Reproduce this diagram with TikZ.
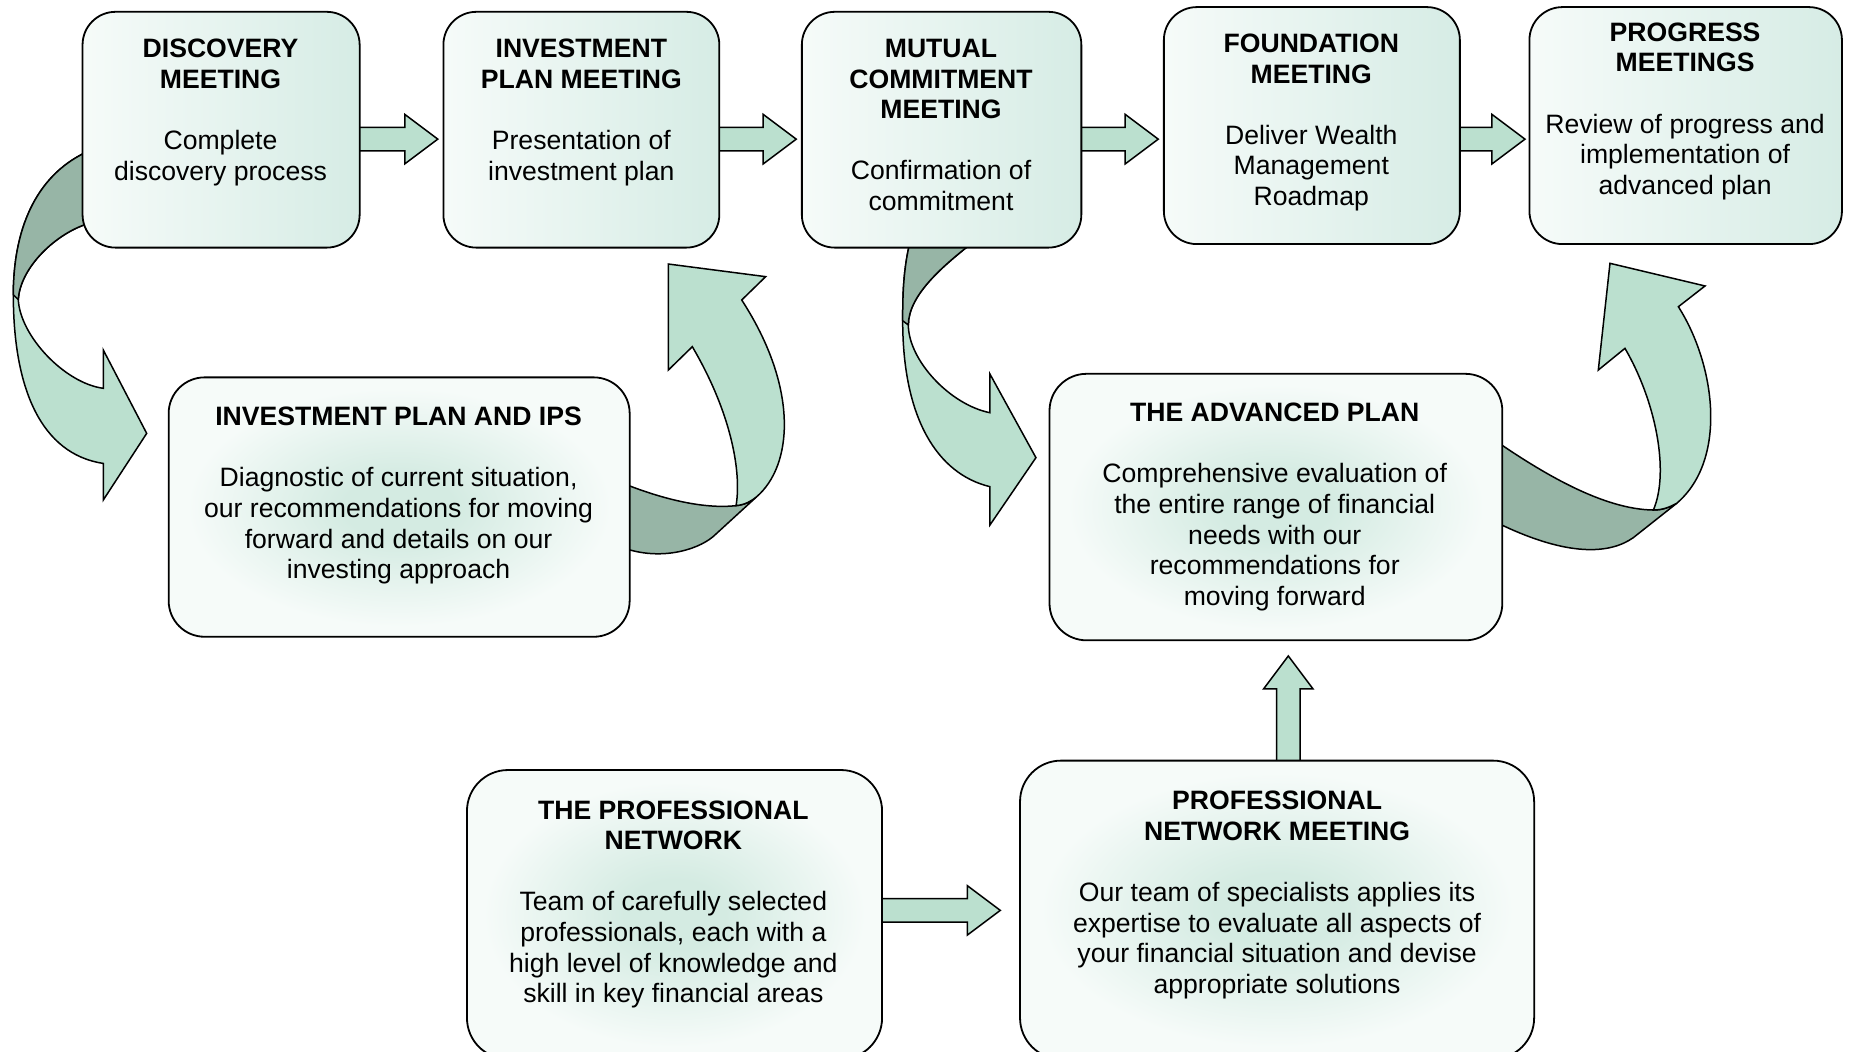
\documentclass[tikz,border=0pt]{standalone}
\usepackage{fontspec}
\setmainfont{Liberation Sans}
\usetikzlibrary{calc}

\definecolor{arrowfill}{HTML}{BBE0CF}
\definecolor{arrowback}{HTML}{97B5A6}
\definecolor{paleedge}{HTML}{F6FBF9}
\definecolor{mintface}{HTML}{D6ECE5}
\definecolor{glowcore}{HTML}{D4EBE2}

\pgfdeclarelayer{background}
\pgfsetlayers{background,main}

% soft glow used by the lower boxes
\pgfdeclareradialshading{glow}{\pgfpoint{0bp}{0bp}}{color(0bp)=(glowcore); color(6bp)=(glowcore); color(23bp)=(paleedge); color(50bp)=(paleedge)}

\tikzset{
  stage/.style={draw=black, line width=1.8pt, rounded corners=33pt, inner sep=0pt,
    left color=paleedge, right color=mintface},
  hub/.style={draw=black, line width=1.8pt, inner sep=0pt, shading=glow},
  caption/.style={align=center, font=\fontsize{26.6pt}{30.6pt}\selectfont, inner sep=0pt},
  blockarrow/.style={draw=black, line width=1.5pt, fill=arrowfill, line join=miter},
  backband/.style={draw=black, line width=1.5pt, fill=arrowback, line join=round},
  frontband/.style={draw=black, line width=1.5pt, fill=arrowfill, line join=miter},
}

% block arrow pointing right, from #1 to the tip #2
\newcommand{\rblock}[2]{%
  \draw[blockarrow] ($(#1)+(0,-10)$) -- ($(#2)+(-28,-10)$) -- ($(#2)+(-28,-21)$) -- (#2)
    -- ($(#2)+(-28,21)$) -- ($(#2)+(-28,10)$) -- ($(#1)+(0,10)$) -- cycle;}
% block arrow pointing up, from #1 to the tip #2
\newcommand{\ublock}[2]{%
  \draw[blockarrow] ($(#1)+(-10,0)$) -- ($(#2)+(-10,28)$) -- ($(#2)+(-21,28)$) -- (#2)
    -- ($(#2)+(21,28)$) -- ($(#2)+(10,28)$) -- ($(#1)+(10,0)$) -- cycle;}

\begin{document}
\begin{tikzpicture}[x=1.1792pt, y=-1.1792pt]
\useasboundingbox (0,0) rectangle (1568,892);
\clip (0,0) rectangle (1568,892);

% ---------- boxes ----------
\path
  node[stage, minimum width=277.1pt, minimum height=235.8pt] (b1) at (187.5,110) {}
  node[stage, minimum width=275.9pt, minimum height=235.8pt] (b2) at (493,110) {}
  node[stage, minimum width=279.5pt, minimum height=235.8pt] (b3) at (798.5,110) {}
  node[stage, minimum width=296.0pt, minimum height=237.0pt] (b4) at (1112.5,106.5) {}
  node[stage, minimum width=312.5pt, minimum height=237.0pt] (b5) at (1429.5,106.5) {}
  node[hub, rounded corners=36pt, minimum width=461.0pt, minimum height=259.4pt] (b6) at (338.5,430) {}
  node[hub, rounded corners=37pt, minimum width=452.8pt, minimum height=266.5pt] (b7) at (1082,430) {}
  node[hub, rounded corners=41pt, minimum width=415.1pt, minimum height=288.9pt] (b8) at (572,775.5) {}
  node[hub, rounded corners=41pt, minimum width=514.1pt, minimum height=298.3pt] (b9) at (1083,771.5) {};

% ---------- texts ----------
\node[caption] (t1) at (187,95.4) {\bfseries DISCOVERY\\\bfseries MEETING\\[30.6pt]\mdseries Complete\\\mdseries discovery process};
\node[caption] (t2) at (493,95.4) {\bfseries INVESTMENT\\\bfseries PLAN MEETING\\[30.6pt]\mdseries Presentation of\\\mdseries investment plan};
\node[caption] (t3) at (798,106) {\bfseries MUTUAL\\\bfseries COMMITMENT\\\bfseries MEETING\\[30.6pt]\mdseries Confirmation of\\\mdseries commitment};
\node[caption] (t4) at (1112,103.9) {\bfseries FOUNDATION\\\bfseries MEETING\\[30.6pt]\mdseries Deliver Wealth\\\mdseries Management\\\mdseries Roadmap};
\node[caption] (t5) at (1429,94.4) {\bfseries PROGRESS\\\bfseries MEETINGS\\[30.6pt]\mdseries Review of progress and\\\mdseries implementation of\\\mdseries advanced plan};
\node[caption] (t6) at (338,420.4) {\bfseries INVESTMENT PLAN AND IPS\\[30.6pt]\mdseries Diagnostic of current situation,\\\mdseries our recommendations for moving\\\mdseries forward and details on our\\\mdseries investing approach};
\node[caption] (t7) at (1081,429.9) {\bfseries THE ADVANCED PLAN\\[30.6pt]\mdseries Comprehensive evaluation of\\\mdseries the entire range of financial\\\mdseries needs with our\\\mdseries recommendations for\\\mdseries moving forward};
\node[caption] (t8) at (571,766.9) {\bfseries THE PROFESSIONAL\\\bfseries NETWORK\\[30.6pt]\mdseries Team of carefully selected\\\mdseries professionals, each with a\\\mdseries high level of knowledge and\\\mdseries skill in key financial areas};
\node[caption] (t9) at (1083,758.9) {\bfseries PROFESSIONAL\\\bfseries NETWORK MEETING\\[30.6pt]\mdseries Our team of specialists applies its\\\mdseries expertise to evaluate all aspects of\\\mdseries your financial situation and devise\\\mdseries appropriate solutions};

% ---------- arrows, kept behind the boxes ----------
\begin{pgfonlayer}{background}
\fill[white] (0,0) rectangle (1568,892);

% discovery -> investment plan and IPS
\draw[frontband] (72,129.6) .. controls (30,150) and (11.3,195) .. (11.3,250)
  .. controls (11.3,330) and (35,385) .. (87.6,393)
  -- (87.6,424) -- (124.4,367.5) -- (87.6,296.8) -- (87.6,329.3)
  .. controls (55,325) and (17,285) .. (15.5,254)
  .. controls (17,228) and (45,200) .. (72,190.5) -- cycle;
\draw[backband] (72,129.6) .. controls (30,150) and (11.3,195) .. (11.3,250)
  -- (15.5,254) .. controls (17,228) and (45,200) .. (72,190.5) -- cycle;

% investment plan and IPS -> investment plan meeting
\draw[backband] (526,410) -- (534.3,412.2) .. controls (560,422) and (595,432) .. (624.2,428.8)
  .. controls (632,428) and (637,425) .. (641.7,421.2) -- (607,453)
  .. controls (595,465) and (565,475) .. (534.3,466.4) -- (526,465) -- cycle;
\draw[frontband] (624.2,428.8) .. controls (629,400) and (620,350) .. (587.1,294)
  -- (566.8,313.8) -- (566.8,223.9) -- (649.3,234.6) -- (629,254.4)
  .. controls (678,330) and (672,395) .. (641.7,421.2)
  .. controls (637,425) and (632,428) .. (624.2,428.8) -- cycle;

% mutual commitment -> the advanced plan
\draw[frontband] (772,204) .. controls (766,228) and (765.5,250) .. (765.5,272)
  .. controls (765.5,355) and (795,402) .. (839.5,412.7)
  -- (839.5,445.2) -- (878.5,388.1) -- (839.5,317.2) -- (839.5,350)
  .. controls (805,343) and (770.3,305) .. (770.3,275.6)
  .. controls (770.3,250) and (800,225) .. (827,204) -- cycle;
\draw[backband] (772,204) .. controls (766,228) and (765.5,250) .. (765.5,272)
  -- (770.3,275.6) .. controls (770.3,250) and (800,225) .. (827,204) -- cycle;

% the advanced plan -> progress meetings
\draw[backband] (1266,372) -- (1273.5,377.4) .. controls (1310,402) and (1360,432) .. (1402.1,432.5)
  .. controls (1410,432.5) and (1416,430) .. (1421.9,426.8) -- (1385,456)
  .. controls (1365,470) and (1330,472) .. (1273.5,445.2) -- (1266,445) -- cycle;
\draw[frontband] (1402.1,432.5) .. controls (1416,400) and (1404,340) .. (1378,295.4)
  -- (1355.4,313.8) -- (1365.3,223.3) -- (1445.9,242.5) -- (1423.3,260.1)
  .. controls (1455,310) and (1465,390) .. (1421.9,426.8)
  .. controls (1416,430) and (1410,432.5) .. (1402.1,432.5) -- cycle;

% straight block arrows between neighbouring boxes
\coordinate (rowtop) at (0,118);
\coordinate (rowlow) at (0,772);
\coordinate (upx) at (1092.5,0);
\coordinate (a12s) at ($(b1.east |- rowtop)+(-3,0)$);
\coordinate (a12e) at ($(b2.west |- rowtop)+(-4,0)$);
\coordinate (a23s) at ($(b2.east |- rowtop)+(-3,0)$);
\coordinate (a23e) at ($(b3.west |- rowtop)+(-4,0)$);
\coordinate (a34s) at ($(b3.east |- rowtop)+(-3,0)$);
\coordinate (a34e) at ($(b4.west |- rowtop)+(-4,0)$);
\coordinate (a45s) at ($(b4.east |- rowtop)+(-3,0)$);
\coordinate (a45e) at ($(b5.west |- rowtop)+(-3,0)$);
\coordinate (a89s) at ($(b8.east |- rowlow)+(-3,0)$);
\coordinate (a89e) at ($(b9.west |- rowlow)+(-16,0)$);
\coordinate (a97s) at ($(b9.north -| upx)+(0,3)$);
\coordinate (a97e) at ($(b7.south -| upx)+(0,12.5)$);
\rblock{a12s}{a12e}
\rblock{a23s}{a23e}
\rblock{a34s}{a34e}
\rblock{a45s}{a45e}
\rblock{a89s}{a89e}
\ublock{a97s}{a97e}
\end{pgfonlayer}
\end{tikzpicture}
\end{document}
